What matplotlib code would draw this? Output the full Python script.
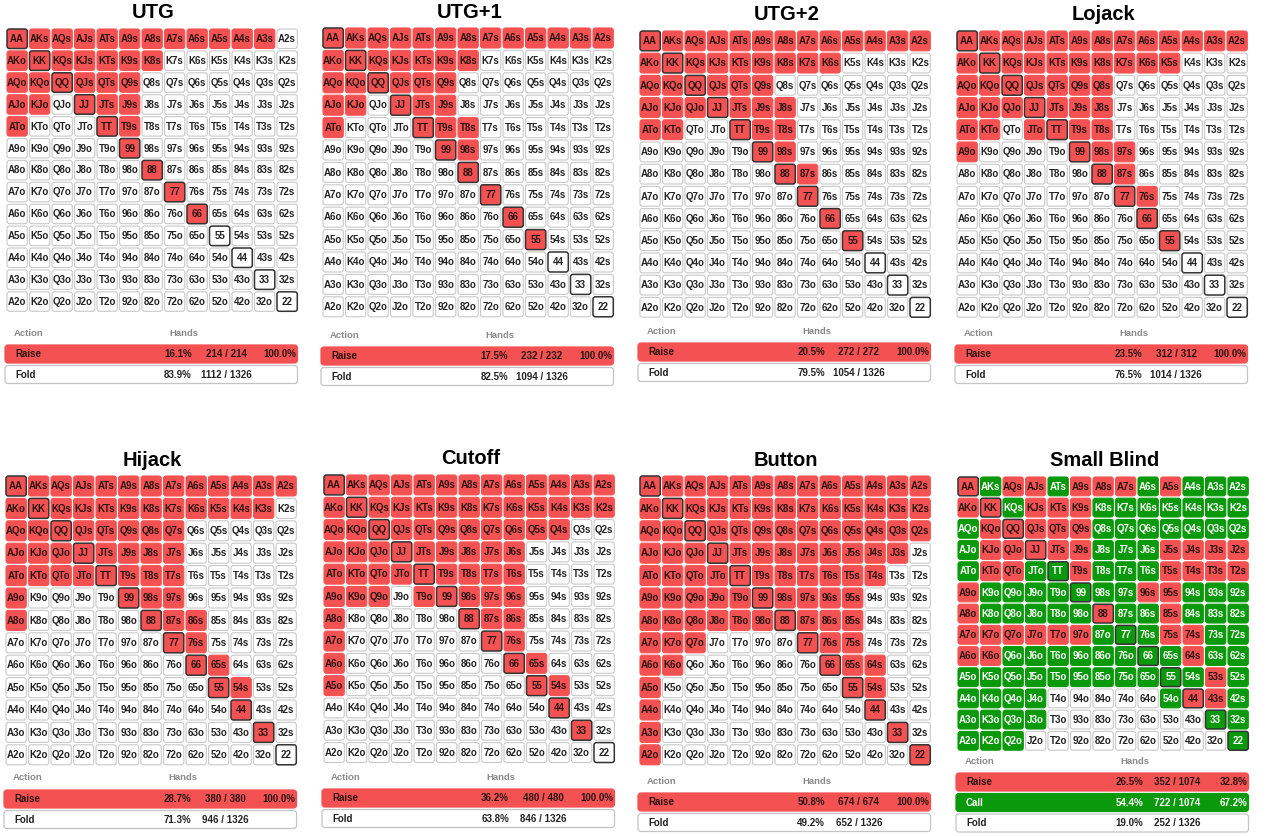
import matplotlib
matplotlib.use("Agg")
import matplotlib.pyplot as plt
from matplotlib.patches import FancyBboxPatch

plt.rcParams['font.family'] = ['Liberation Sans', 'DejaVu Sans']

RANKS = "AKQJT98765432"

# Raise / call ranges per position
utg_raise = ("AA KK QQ JJ TT 99 88 77 66 AKs AQs AJs ATs A9s A8s A7s A6s A5s A4s A3s "
             "KQs KJs KTs K9s K8s QJs QTs Q9s JTs J9s T9s AKo AQo AJo ATo KQo KJo").split()
utg1_raise = ("AA KK QQ JJ TT 99 88 77 66 55 AKs AQs AJs ATs A9s A8s A7s A6s A5s A4s A3s A2s "
              "KQs KJs KTs K9s K8s QJs QTs Q9s JTs J9s T9s T8s 98s AKo AQo AJo ATo KQo KJo").split()
utg2_raise = ("AA KK QQ JJ TT 99 88 77 66 55 AKs AQs AJs ATs A9s A8s A7s A6s A5s A4s A3s A2s "
              "KQs KJs KTs K9s K8s K7s K6s QJs QTs Q9s JTs J9s J8s T9s T8s 98s 87s "
              "AKo AQo AJo ATo KQo KJo KTo QJo").split()
lj_raise = ("AA KK QQ JJ TT 99 88 77 66 55 AKs AQs AJs ATs A9s A8s A7s A6s A5s A4s A3s A2s "
            "KQs KJs KTs K9s K8s K7s K6s K5s QJs QTs Q9s Q8s JTs J9s J8s T9s T8s 98s 97s 87s 76s "
            "AKo AQo AJo ATo A9o KQo KJo KTo QJo JTo").split()
hj_raise = ("AA KK QQ JJ TT 99 88 77 66 55 44 33 AKs AQs AJs ATs A9s A8s A7s A6s A5s A4s A3s A2s "
            "KQs KJs KTs K9s K8s K7s K6s K5s K4s K3s QJs QTs Q9s Q8s Q7s JTs J9s J8s J7s "
            "T9s T8s T7s 98s 97s 87s 86s 76s 65s 54s "
            "AKo AQo AJo ATo A9o A8o KQo KJo KTo QJo QTo JTo").split()
co_raise = ("AA KK QQ JJ TT 99 88 77 66 55 44 33 AKs AQs AJs ATs A9s A8s A7s A6s A5s A4s A3s A2s "
            "KQs KJs KTs K9s K8s K7s K6s K5s K4s K3s K2s QJs QTs Q9s Q8s Q7s Q6s Q5s Q4s "
            "JTs J9s J8s J7s J6s T9s T8s T7s T6s 98s 97s 96s 87s 86s 76s 65s 54s "
            "AKo AQo AJo ATo A9o A8o A7o A6o A5o KQo KJo KTo K9o QJo QTo Q9o JTo T9o").split()
btn_raise = ("AA KK QQ JJ TT 99 88 77 66 55 44 33 22 AKs AQs AJs ATs A9s A8s A7s A6s A5s A4s A3s A2s "
             "KQs KJs KTs K9s K8s K7s K6s K5s K4s K3s K2s QJs QTs Q9s Q8s Q7s Q6s Q5s Q4s Q3s Q2s "
             "JTs J9s J8s J7s J6s J5s J4s J3s T9s T8s T7s T6s T5s T4s 98s 97s 96s 95s "
             "87s 86s 85s 76s 75s 65s 64s 54s "
             "AKo AQo AJo ATo A9o A8o A7o A6o A5o A4o A3o A2o KQo KJo KTo K9o K8o K7o K6o "
             "QJo QTo Q9o Q8o Q7o JTo J9o J8o T9o T8o 98o").split()
sb_raise = ("AA KK QQ JJ 88 44 AQs AJs A9s A8s A7s A5s KJs KTs K9s QJs QTs Q9s "
            "JTs J9s J5s J4s J3s J2s T9s T5s T4s T3s T2s 96s 95s 85s 75s 74s 64s 53s 43s "
            "AKo KQo KJo QJo KTo QTo A9o A8o A7o K7o Q7o J7o T7o 97o A6o K6o").split()
sb_call = ("TT 99 77 66 55 33 22 AKs ATs A6s A4s A3s A2s KQs K8s K7s K6s K5s K4s K3s K2s "
           "Q8s Q7s Q6s Q5s Q4s Q3s Q2s J8s J7s J6s T8s T7s T6s 98s 97s 94s 93s 92s "
           "87s 86s 84s 83s 82s 76s 73s 72s 65s 63s 62s 54s 52s 42s 32s "
           "AQo AJo ATo A5o A4o A3o A2o K9o K8o K5o K4o K3o K2o Q9o Q8o Q6o Q5o Q4o Q3o Q2o "
           "JTo J9o J8o J6o J5o J4o J3o T9o T8o T6o T5o 98o 96o 95o 87o 86o 85o 76o 75o 65o 54o").split()

titles = ["UTG", "UTG+1", "UTG+2", "Lojack", "Hijack", "Cutoff", "Button", "Small Blind"]
raises = [utg_raise, utg1_raise, utg2_raise, lj_raise, hj_raise, co_raise, btn_raise, sb_raise]
calls = [[], [], [], [], [], [], [], sb_call]

# action tables: (action, share of all hands, combos, share of played)
tables = [
    [("Raise", "16.1%", "214 / 214", "100.0%"), ("Fold", "83.9%", "1112 / 1326", "")],
    [("Raise", "17.5%", "232 / 232", "100.0%"), ("Fold", "82.5%", "1094 / 1326", "")],
    [("Raise", "20.5%", "272 / 272", "100.0%"), ("Fold", "79.5%", "1054 / 1326", "")],
    [("Raise", "23.5%", "312 / 312", "100.0%"), ("Fold", "76.5%", "1014 / 1326", "")],
    [("Raise", "28.7%", "380 / 380", "100.0%"), ("Fold", "71.3%", "946 / 1326", "")],
    [("Raise", "36.2%", "480 / 480", "100.0%"), ("Fold", "63.8%", "846 / 1326", "")],
    [("Raise", "50.8%", "674 / 674", "100.0%"), ("Fold", "49.2%", "652 / 1326", "")],
    [("Raise", "26.5%", "352 / 1074", "32.8%"), ("Call", "54.4%", "722 / 1074", "67.2%"),
     ("Fold", "19.0%", "252 / 1326", "")],
]

# layout: grid left, grid top, row pitch, table top (pixels)
grid_x = [7, 323, 640, 957, 6, 324, 640, 958]
grid_y = [29, 28, 31, 31, 476, 475, 476, 477]
pitch_y = [21.9, 22.4, 22.2, 22.2, 22.4, 22.3, 22.4, 21.2]
bar_top = [345, 347, 343, 345, 790, 789, 793, 773]
PX = 22.5

RED = "#f45252"
GREEN = "#0a990a"
COLORS = {"Raise": (RED, RED, "#2a1414"), "Call": (GREEN, GREEN, "white"),
          "Fold": ("white", "#c4c4c4", "#222222")}


def hand_name(i, j):
    if i == j:
        return RANKS[i] * 2
    if i < j:
        return RANKS[i] + RANKS[j] + "s"
    return RANKS[j] + RANKS[i] + "o"


fig = plt.figure(figsize=(12.7, 8.36), dpi=100)
ax = fig.add_axes([0, 0, 1, 1])
ax.set_xlim(0, 1270)
ax.set_ylim(836, 0)
ax.axis("off")

for k in range(8):
    x0, y0, py = grid_x[k], grid_y[k], pitch_y[k]
    rset, cset = set(raises[k]), set(calls[k])
    ax.text(x0 + 13 * PX / 2, y0 - 16, titles[k], ha="center", va="center",
            fontsize=14.5, fontweight="bold", color="black")
    for i in range(13):
        for j in range(13):
            h = hand_name(i, j)
            if h in rset:
                fc, ec, tc = RED, RED, "#2a1414"
            elif h in cset:
                fc, ec, tc = GREEN, GREEN, "white"
            else:
                fc, ec, tc = "white", "#c9c9c9", "#222222"
            lw = 0.8
            if i == j:
                ec, lw = "#333333", 1.1
            cx = x0 + j * PX
            cy = y0 + i * py
            ax.add_patch(FancyBboxPatch((cx, cy), PX - 2.2, py - 2.4,
                                        boxstyle="round,pad=0,rounding_size=2.5",
                                        fc=fc, ec=ec, lw=lw))
            ax.text(cx + (PX - 2.2) / 2, cy + (py - 2.4) / 2 + 0.3, h, ha="center", va="center",
                    fontsize=7, fontweight="bold", color=tc)

    # action table
    bl = x0 - 2
    bw = 13 * PX
    bt = bar_top[k]
    ax.text(bl + 9, bt - 12, "Action", ha="left", va="center", fontsize=6.8,
            fontweight="bold", color="#8a8a8a")
    ax.text(bl + 164, bt - 12, "Hands", ha="left", va="center", fontsize=6.8,
            fontweight="bold", color="#8a8a8a")
    for r, (name, pct, combos, share) in enumerate(tables[k]):
        fc, ec, tc = COLORS[name]
        y = bt + r * 20.5
        ax.add_patch(FancyBboxPatch((bl, y), bw, 18, boxstyle="round,pad=0,rounding_size=3",
                                    fc=fc, ec=ec, lw=0.9))
        yc = y + 9.3
        ax.text(bl + 10, yc, name, ha="left", va="center", fontsize=7,
                fontweight="bold", color=tc)
        ax.text(bl + 187, yc, pct, ha="right", va="center", fontsize=7,
                fontweight="bold", color=tc)
        ax.text(bl + 221, yc, combos, ha="center", va="center", fontsize=7,
                fontweight="bold", color=tc)
        if share:
            ax.text(bl + 291, yc, share, ha="right", va="center", fontsize=7,
                    fontweight="bold", color=tc)

fig.savefig("out.png", dpi=100, facecolor="white")
